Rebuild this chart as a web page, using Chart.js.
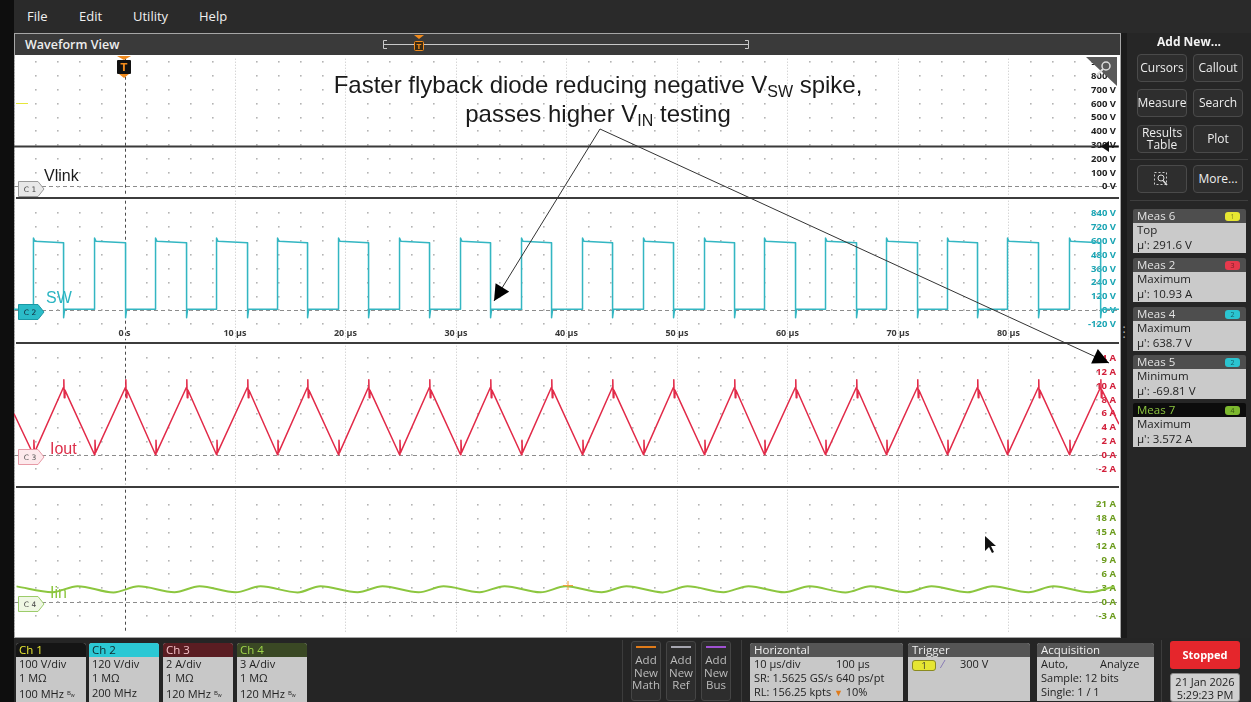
<!DOCTYPE html>
<html>
<head>
<meta charset="utf-8">
<title>Flyback diode - SW / Iout / Iin</title>
<script src="https://cdn.jsdelivr.net/npm/chart.js@4.4.1/dist/chart.umd.min.js"></script>
<style>
  * { box-sizing: border-box; }
  body { margin: 0; background: #242424; font-family: "Open Sans", "Noto Sans", sans-serif; }
  #scope { position: relative; width: 1251px; height: 702px; overflow: hidden; background: #252525; }
  .a { position: absolute; }
  .menu { top: 7px; color: #f0f0f0; font-size: 13px; }
  .btn { width: 50px; height: 28px; background: #2e2e2e; border: 1px solid #4a4a4a; border-radius: 4px;
         color: #eee; font-size: 12px; line-height: 12px; display: flex; align-items: center; justify-content: center; text-align: center; }
  .meas { left: 1133px; width: 113px; height: 44px; }
  .mh { position: absolute; left: 0; top: 0; width: 113px; height: 14px; background: #4e4e4e; color: #e4e4e4;
        font-size: 11.5px; line-height: 14px; padding-left: 4px; border-radius: 2px 2px 0 0; }
  .mb { position: absolute; left: 0; top: 14px; width: 113px; height: 30px; background: #cacaca; color: #1e1e1e;
        font-size: 11.5px; line-height: 14.5px; padding: 0 4px; }
  .badge { position: absolute; right: 6px; top: 3px; width: 15px; height: 9px; border-radius: 3px;
           font-size: 7px; line-height: 9px; text-align: center; }
  .chbox { top: 643px; height: 59px; background: #c8c8c8; border-radius: 3px 3px 0 0; overflow: hidden; }
  .chh { position: absolute; left: 0; top: 0; width: 100%; height: 14px; font-size: 11.5px; line-height: 14px; padding-left: 3px; }
  .chb { position: absolute; left: 0; top: 14px; width: 100%; font-size: 11px; line-height: 14.3px; padding-left: 3px; color: #222; }
  .bw { font-size: 6px; vertical-align: 3px; margin-left: 3px; }
  .addb { top: 641px; width: 30px; height: 60px; background: #2d2d2d; border: 1px solid #454545; border-radius: 3px;
          color: #bcbcbc; font-size: 11.5px; line-height: 12.6px; text-align: center; padding-top: 12px; }
  .addb i { position: absolute; left: 4px; top: 4px; width: 20px; height: 2px; }
  .box { top: 643px; height: 58px; background: #c8c8c8; border-radius: 3px 3px 0 0; overflow: hidden; }
  .bh { position: absolute; left: 0; top: 0; width: 100%; height: 14px; background: #555; color: #f0f0f0;
        font-size: 11.5px; line-height: 14px; padding-left: 4px; }
  .bb { position: absolute; left: 4px; font-size: 11px; line-height: 14px; color: #222; white-space: nowrap; }
  .note { left: 200px; width: 796px; text-align: center; color: #1a1a1a; font-family: "Liberation Sans", Arial, sans-serif; font-size: 24px; line-height: 28px; white-space: nowrap; }
  .note sub { font-size: 16px; vertical-align: -4px; line-height: 0; }
  .tag { font-family: "Liberation Sans", Arial, sans-serif; font-size: 16px; }
</style>
</head>
<body>
<div id="scope">
  <!-- frame + menu -->
  <div class="a" style="left:0;top:0;width:14px;height:702px;background:#0e0e0e"></div>
  <div class="a" style="left:14px;top:0;width:1237px;height:33px;background:#2a2a2a"></div>
  <div class="a menu" style="left:27px">File</div>
  <div class="a menu" style="left:79px">Edit</div>
  <div class="a menu" style="left:133px">Utility</div>
  <div class="a menu" style="left:199px">Help</div>

  <!-- waveform window -->
  <div class="a" style="left:14px;top:33px;width:1107px;height:605px;border:1px solid #a6a6a6;background:#fff"></div>
  <div class="a" style="left:15px;top:34px;width:1105px;height:21px;background:#3a3a3a"></div>
  <div class="a" style="left:25px;top:36px;color:#eee;font-size:12.5px;font-weight:600">Waveform View</div>

  <canvas id="ch1" class="a" style="left:14px;top:56px" width="1105" height="142"></canvas>
  <canvas id="ch2" class="a" style="left:14px;top:198px" width="1105" height="145"></canvas>
  <canvas id="ch3" class="a" style="left:14px;top:343px" width="1105" height="144"></canvas>
  <canvas id="ch4" class="a" style="left:14px;top:487px" width="1105" height="148"></canvas>

  <!-- panel separators -->
  <div class="a" style="left:16px;top:197px;width:1103px;height:2px;background:#3c3c3c"></div>
  <div class="a" style="left:16px;top:342px;width:1103px;height:2px;background:#3c3c3c"></div>
  <div class="a" style="left:16px;top:486px;width:1103px;height:2px;background:#3c3c3c"></div>

  <!-- trace names -->
  <div class="a tag" style="left:44px;top:167px;color:#1a1a1a">Vlink</div>
  <div class="a tag" style="left:46px;top:289px;color:#2bb5c2">SW</div>
  <div class="a tag" style="left:50px;top:440px;color:#dc2f4a">Iout</div>
  <div class="a tag" style="left:50px;top:584px;color:#8cc63f">Iin</div>

  <!-- annotation -->
  <div class="a note" style="top:71px">Faster flyback diode reducing negative V<sub>SW</sub> spike,</div>
  <div class="a note" style="top:100px">passes higher V<sub>IN</sub> testing</div>

  <svg class="a" style="left:0;top:0" width="1251" height="702">
    <defs>
      <marker id="ah" viewBox="0 0 10 10" refX="10" refY="5" markerWidth="18" markerHeight="16" markerUnits="userSpaceOnUse" orient="auto">
        <path d="M0 0 L10 5 L0 10 z" fill="#000"/>
      </marker>
    </defs>
    <!-- record view bar in header -->
    <line x1="384" y1="44.5" x2="749" y2="44.5" stroke="#c8c8c8"/>
    <path d="M387 40.5 H383.5 V48.5 H387 M745 40.5 H748.5 V48.5 H745" fill="none" stroke="#c8c8c8"/>
    <polygon points="414,35 424,35 419,39" fill="#f08a1c"/>
    <rect x="414.5" y="41.5" width="9" height="9" rx="1" fill="#3a2a12" stroke="#f08a1c"/>
    <text x="419" y="49" fill="#f08a1c" font-size="7" font-weight="700" text-anchor="middle" font-family="DejaVu Sans">T</text>

    <!-- trigger position marker -->
    <polygon points="117,56 131,56 124,60" fill="#f08a1c"/>
    <rect x="117" y="60" width="14" height="14" rx="1" fill="#111"/>
    <text x="124" y="71" fill="#f08a1c" font-size="10" font-weight="700" text-anchor="middle" font-family="DejaVu Sans">T</text>
    <polygon points="119,74 129,74 124,78" fill="#f08a1c"/>

    <!-- ch1 offset stub -->
    <line x1="16" y1="103.5" x2="28" y2="103.5" stroke="#e6e63a"/>

    <!-- zoom corner icon -->
    <polygon points="1086,57 1117,57 1117,86" fill="#5a5a5a"/>
    <circle cx="1106" cy="66" r="4" fill="none" stroke="#ddd" stroke-width="1.5"/>
    <line x1="1103" y1="69" x2="1097" y2="75" stroke="#ddd" stroke-width="2"/>

    <!-- trigger level arrow on ch1 -->
    <line x1="1100" y1="146.5" x2="1118" y2="146.5" stroke="#111" stroke-width="1.5"/>
    <polygon points="1101,146.5 1109,141 1109,152" fill="#111"/>

    <!-- channel offset tags -->
    <g font-family="DejaVu Sans" font-size="7.5" text-anchor="middle">
      <path d="M18.5 181.5 H38 L44 189 L38 196.5 H18.5 Z" fill="#e8e8e8" stroke="#9a9a9a"/>
      <text x="30" y="192" fill="#444">C 1</text>
      <path d="M18.5 304.5 H38 L44 312 L38 319.5 H18.5 Z" fill="#2bbcc8" stroke="#1a98a4"/>
      <text x="30" y="315" fill="#123">C 2</text>
      <path d="M18.5 449.5 H38 L44 457 L38 464.5 H18.5 Z" fill="#fde9ec" stroke="#e79aa6"/>
      <text x="30" y="460" fill="#555">C 3</text>
      <path d="M18.5 596.5 H38 L44 604 L38 611.5 H18.5 Z" fill="#eff7e4" stroke="#9ccc6a"/>
      <text x="30" y="607" fill="#444">C 4</text>
    </g>

    <!-- small orange cursor mark on ch4 -->
    <path d="M563 585.5 H573 M568 581 V590" stroke="#f0a040" stroke-width="1"/>

    <!-- annotation arrows -->
    <line x1="600" y1="129" x2="494" y2="301" stroke="#333" stroke-width="1" marker-end="url(#ah)"/>
    <line x1="600" y1="129" x2="1109" y2="363" stroke="#333" stroke-width="1" marker-end="url(#ah)"/>

    <!-- mouse pointer -->
    <path d="M985 536 L985 551 L989 547 L992 553 L994 552 L991 546 L996 546 Z" fill="#111"/>
  </svg>

  <!-- right side panel -->
  <div class="a" style="left:1121px;top:33px;width:130px;height:605px;background:#262626"></div>
  <div class="a" style="left:1121px;top:33px;width:6px;height:605px;background:#1b1b1b"></div>
  <div class="a" style="left:1121px;top:325px;width:6px;color:#bbb;font-size:12px;line-height:5px;text-align:center">·<br>·<br>·</div>
  <div class="a" style="left:1128px;top:33px;width:122px;text-align:center;color:#f2f2f2;font-size:12px;font-weight:700">Add New...</div>
  <div class="a btn" style="left:1137px;top:54px">Cursors</div>
  <div class="a btn" style="left:1193px;top:54px">Callout</div>
  <div class="a btn" style="left:1137px;top:89px">Measure</div>
  <div class="a btn" style="left:1193px;top:89px">Search</div>
  <div class="a btn" style="left:1137px;top:125px">Results<br>Table</div>
  <div class="a btn" style="left:1193px;top:125px">Plot</div>
  <div class="a" style="left:1130px;top:159px;width:118px;height:1px;background:#3e3e3e"></div>
  <div class="a btn" style="left:1137px;top:165px">
    <svg width="18" height="16"><rect x="1.5" y="1.5" width="12" height="12" fill="none" stroke="#ccc" stroke-dasharray="2 2"/><circle cx="8" cy="7" r="3" fill="none" stroke="#ddd"/><line x1="10" y1="9.5" x2="14" y2="14" stroke="#ddd" stroke-width="1.5"/></svg>
  </div>
  <div class="a btn" style="left:1193px;top:165px">More...</div>
  <div class="a" style="left:1130px;top:200px;width:118px;height:1px;background:#3e3e3e"></div>

  <div class="a meas" style="top:209px"><div class="mh">Meas 6<span class="badge" style="background:#e6e632;color:#8a8a20">1</span></div><div class="mb">Top<br>µ': 291.6 V</div></div>
  <div class="a meas" style="top:258px"><div class="mh">Meas 2<span class="badge" style="background:#e6394c;color:#7a1a24">3</span></div><div class="mb">Maximum<br>µ': 10.93 A</div></div>
  <div class="a meas" style="top:307px"><div class="mh">Meas 4<span class="badge" style="background:#2bc4d0;color:#146068">2</span></div><div class="mb">Maximum<br>µ': 638.7 V</div></div>
  <div class="a meas" style="top:355px"><div class="mh">Meas 5<span class="badge" style="background:#2bc4d0;color:#146068">2</span></div><div class="mb">Minimum<br>µ': -69.81 V</div></div>
  <div class="a meas" style="top:403px"><div class="mh" style="background:#0c0c0c;color:#8cc63f">Meas 7<span class="badge" style="background:#7cb82e;color:#3a5a14">4</span></div><div class="mb">Maximum<br>µ': 3.572 A</div></div>

  <!-- bottom bar -->
  <div class="a chbox" style="left:16px;width:70px"><div class="chh" style="background:#151515;color:#e8e832">Ch 1</div><div class="chb">100 V/div<br>1 MΩ<br>100 MHz<span class="bw">B<sub>w</sub></span></div></div>
  <div class="a chbox" style="left:89px;width:70px"><div class="chh" style="background:#2bc8d4;color:#10282c">Ch 2</div><div class="chb">120 V/div<br>1 MΩ<br>200 MHz</div></div>
  <div class="a chbox" style="left:163px;width:70px"><div class="chh" style="background:#5a1d22;color:#f4c0c8">Ch 3</div><div class="chb">2 A/div<br>1 MΩ<br>120 MHz<span class="bw">B<sub>w</sub></span></div></div>
  <div class="a chbox" style="left:237px;width:70px"><div class="chh" style="background:#3a4824;color:#9fd64a">Ch 4</div><div class="chb">3 A/div<br>1 MΩ<br>120 MHz<span class="bw">B<sub>w</sub></span></div></div>

  <div class="a" style="left:622px;top:640px;width:1px;height:62px;background:#3c3c3c"></div>
  <div class="a addb" style="left:631px"><i style="background:#e07b1a"></i>Add<br>New<br>Math</div>
  <div class="a addb" style="left:666px"><i style="background:#a6a6b0"></i>Add<br>New<br>Ref</div>
  <div class="a addb" style="left:701px"><i style="background:#a052d2"></i>Add<br>New<br>Bus</div>
  <div class="a" style="left:741px;top:640px;width:1px;height:62px;background:#3c3c3c"></div>

  <div class="a box" style="left:750px;width:153px"><div class="bh">Horizontal</div>
    <div class="bb" style="top:14px">10 µs/div</div><div class="bb" style="top:14px;left:86px">100 µs</div>
    <div class="bb" style="top:28px">SR: 1.5625 GS/s 640 ps/pt</div>
    <div class="bb" style="top:42px">RL: 156.25 kpts <span style="color:#e07b1a;font-size:9px">▼</span> 10%</div></div>
  <div class="a box" style="left:908px;width:122px"><div class="bh">Trigger</div>
    <div class="a" style="left:4px;top:17px;width:24px;height:11px;background:#e6e632;border:1px solid #8a8a20;border-radius:3px;font-size:9px;line-height:9px;text-align:center;color:#333">1</div>
    <div class="bb" style="top:14px;left:34px;color:#7a6ab0">⁄</div>
    <div class="bb" style="top:14px;left:52px">300 V</div></div>
  <div class="a box" style="left:1037px;width:117px"><div class="bh">Acquisition</div>
    <div class="bb" style="top:14px">Auto,</div><div class="bb" style="top:14px;left:63px">Analyze</div>
    <div class="bb" style="top:28px">Sample: 12 bits</div>
    <div class="bb" style="top:42px">Single: 1 / 1</div></div>
  <div class="a" style="left:1161px;top:640px;width:1px;height:62px;background:#3c3c3c"></div>
  <div class="a" style="left:1170px;top:641px;width:70px;height:28px;background:#e5262c;border-radius:3px;color:#fff;font-size:11px;font-weight:700;line-height:28px;text-align:center">Stopped</div>
  <div class="a" style="left:1170px;top:673px;width:70px;height:29px;background:#d0d0d0;border:1px solid #888;border-radius:3px;color:#222;font-size:11px;line-height:13px;text-align:center;padding-top:1px">21 Jan 2026<br>5:29:23 PM</div>
</div>

<script>
// ---- values ----
const timeLabels = [0, 10, 20, 30, 40, 50, 60, 70, 80];            // µs, printed on the SW panel
const ch1Ticks = [0, 100, 200, 300, 400, 500, 600, 700, 800, 900];   // V
const ch2Ticks = [-120, 0, 120, 240, 360, 480, 600, 720, 840];       // V
const ch3Ticks = [-2, 0, 2, 4, 6, 8, 10, 12, 14];                    // A
const ch4Ticks = [-3, 0, 3, 6, 9, 12, 15, 18, 21];                   // A

// Vlink (Ch1): flat at the measured top
const vlinkTimes = [-10, 90];
const vlinkVolts = [291.6, 291.6];

// SW node (Ch2): switching edges in µs
const swRise = [-8.24, -2.71, 2.81, 8.33, 13.85, 19.37, 24.89, 30.41, 35.93, 41.45, 46.97, 52.49, 57.92, 63.44, 68.96, 74.48, 79.91, 85.52];
const swFall = [-5.52, 0.09, 5.61, 11.13, 16.56, 22.08, 27.60, 33.12, 38.64, 44.16, 49.68, 55.20, 60.72, 66.24, 71.76, 77.19, 82.71, 88.33];
const swLevels = [10, 600, 586];   // low, high after rise, high before fall (V)
const swSpikes = [628, -62];       // overshoot on rise, undershoot on fall (V)

// Iout (Ch3): valley at every SW rise, peak at every SW fall
const ioutEdges = [6.0, 4.5];          // A at left and right screen edge
const ioutLevels = [0.1, 9.8];         // valley, peak (A)
const ioutRing = [2.2, 10.9, 8.3];     // ring at valley, ring at peak high / low (A)

// Iin (Ch4): turning points of the ripple
const iinTimes = [-9.77, -6.52, -4.25, -1.00, 1.27, 4.52, 6.79, 10.05, 12.31, 15.66, 17.74, 21.09, 23.35, 26.61, 28.87, 32.13, 34.39, 37.65,
                  39.91, 43.17, 45.43, 48.69, 50.95, 54.21, 56.47, 59.73, 61.99, 65.25, 67.51, 70.77, 73.03, 76.29, 78.55, 81.81, 84.07, 87.33, 89.59];
const iinAmps = [3.45, 2.20, 3.50, 2.15, 3.45, 2.20, 3.48, 2.18, 3.45, 2.15, 3.50, 2.20, 3.47, 2.18, 3.45, 2.20, 3.50, 2.17,
                 3.46, 2.20, 3.48, 2.16, 3.45, 2.20, 3.50, 2.18, 3.46, 2.15, 3.48, 2.20, 3.45, 2.18, 3.50, 2.20, 3.46, 2.17, 3.45];

// ---- build point tables ----
const vlinkPts = vlinkTimes.map((t, i) => ({ x: t, y: vlinkVolts[i] }));

const swPts = [{ x: -10, y: swLevels[0] }];
swRise.forEach((r, i) => {
  const f = swFall[i];
  swPts.push({ x: r, y: swLevels[0] }, { x: r, y: swSpikes[0] }, { x: r + 0.12, y: swLevels[1] },
             { x: f, y: swLevels[2] }, { x: f + 0.01, y: swSpikes[1] }, { x: f + 0.1, y: swLevels[0] });
});
swPts.push({ x: 90, y: swLevels[0] });

const ioutPts = [{ x: -10, y: ioutEdges[0] }];
swRise.forEach((r, i) => {
  const f = swFall[i];
  ioutPts.push({ x: r, y: ioutLevels[0] }, { x: r + 0.04, y: ioutRing[0] }, { x: r + 0.09, y: ioutLevels[0] + 0.3 },
               { x: f, y: ioutLevels[1] }, { x: f + 0.03, y: ioutRing[1] }, { x: f + 0.07, y: ioutRing[2] }, { x: f + 0.13, y: ioutLevels[1] - 0.4 });
});
ioutPts.push({ x: 90, y: ioutEdges[1] });

const iinPts = iinTimes.map((t, i) => ({ x: t, y: iinAmps[i] }));

// ---- scope grid: dot lattice, trigger line, time labels ----
const scopeGrid = {
  id: 'scopeGrid',
  beforeDatasetsDraw(chart) {
    const { ctx, chartArea, scales: { x, y } } = chart;
    ctx.save();
    ctx.fillStyle = '#b4b4b4';
    y.ticks.forEach(yt => {
      const py = Math.round(y.getPixelForValue(yt.value));
      x.ticks.forEach(xt => {
        if (xt.value % 10 === 0) return;
        const px = Math.round(x.getPixelForValue(xt.value));
        ctx.fillRect(px - 1, py - 1, 1.6, 1.6);
      });
    });
    const px0 = Math.round(x.getPixelForValue(0)) + 0.5;
    ctx.strokeStyle = '#4a4a4a';
    ctx.lineWidth = 1;
    ctx.setLineDash([3, 3]);
    ctx.beginPath();
    ctx.moveTo(px0, chartArea.top);
    ctx.lineTo(px0, chartArea.bottom);
    ctx.stroke();
    ctx.restore();
  },
  afterDatasetsDraw(chart, args, opts) {
    if (!opts.showTime) return;
    const { ctx, chartArea, scales: { x } } = chart;
    ctx.save();
    ctx.fillStyle = '#3a3a3a';
    ctx.font = 'bold 9px "Open Sans"';
    ctx.textAlign = 'center';
    ctx.textBaseline = 'middle';
    x.ticks.forEach(t => {
      if (!timeLabels.includes(t.value)) return;
      ctx.fillText(t.value === 0 ? '0 s' : t.value + ' µs', x.getPixelForValue(t.value), chartArea.bottom - 7);
    });
    ctx.restore();
  }
};

function makeScope(id, cfg) {
  new Chart(document.getElementById(id), {
    type: 'line',
    data: { datasets: cfg.datasets },
    options: {
      responsive: false,
      animation: false,
      events: [],
      layout: { padding: 0 },
      plugins: { legend: { display: false }, tooltip: { enabled: false }, scopeGrid: { showTime: !!cfg.showTime } },
      elements: { point: { radius: 0 }, line: { borderJoinStyle: 'round' } },
      scales: {
        x: {
          type: 'linear', min: -10, max: 90, bounds: 'data',
          ticks: { display: false, stepSize: 2, autoSkip: false },
          grid: { drawTicks: false, lineWidth: 1, color: c => (c.tick && c.tick.value % 10 === 0 && c.tick.value !== 0) ? '#c4c4c4' : 'rgba(0,0,0,0)' },
          border: { display: false, dash: [1, 2] },
          afterFit: s => { s.height = 0; }
        },
        y: {
          position: 'right', min: cfg.min, max: cfg.max, bounds: 'data',
          afterBuildTicks: s => { s.ticks = cfg.ticks.map(v => ({ value: v })); },
          afterFit: s => { s.width = 0; },
          ticks: {
            mirror: true, padding: -3, color: cfg.color, autoSkip: false,
            font: { family: 'Open Sans', size: 9.5, weight: 'bold' },
            callback: v => v + ' ' + cfg.unit
          },
          grid: { drawTicks: false, lineWidth: 1, color: c => (c.tick && c.tick.value === 0) ? '#8c8c8c' : 'rgba(0,0,0,0)' },
          border: { display: false, dash: [4, 3] }
        }
      }
    },
    plugins: [scopeGrid]
  });
}

makeScope('ch1', {
  min: -62.7, max: 926.8, ticks: ch1Ticks, unit: 'V', color: '#1e1e1e',
  datasets: [{ data: vlinkPts, borderColor: '#3a3a3a', borderWidth: 2 }]
});
makeScope('ch2', {
  min: -258, max: 950, ticks: ch2Ticks, unit: 'V', color: '#1aa5b4', showTime: true,
  datasets: [{ data: swPts, borderColor: '#33b6c2', borderWidth: 1.5 }]
});
makeScope('ch3', {
  min: -4.15, max: 15.78, ticks: ch3Ticks, unit: 'A', color: '#d21f3a',
  datasets: [{ data: ioutPts, borderColor: '#e22b49', borderWidth: 1.5 }]
});
makeScope('ch4', {
  min: -6.41, max: 24.2, ticks: ch4Ticks, unit: 'A', color: '#6c9c1e',
  datasets: [{ data: iinPts, borderColor: '#8cc63f', borderWidth: 2, cubicInterpolationMode: 'monotone' }]
});
</script>
</body>
</html>
